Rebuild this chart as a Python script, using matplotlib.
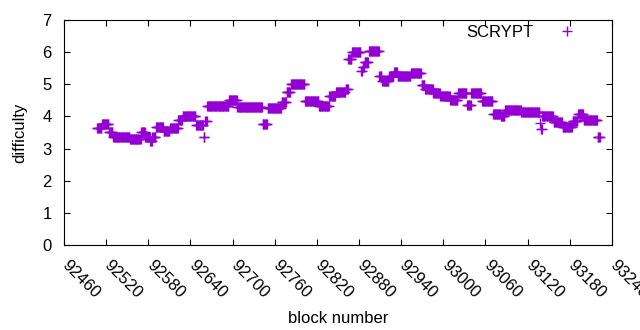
import matplotlib
matplotlib.use('Agg')
import matplotlib.pyplot as plt
import matplotlib.transforms as mtransforms
import numpy as np

plt.rcParams['font.family'] = ['Liberation Sans', 'DejaVu Sans']

# difficulty: first block of each run and its value
run_start = [92507, 92514, 92524, 92530, 92554, 92570, 92576, 92583, 92586, 92591,
             92602, 92611, 92623, 92629, 92648, 92659, 92661, 92664, 92695, 92707,
             92743, 92750, 92770, 92777, 92783, 92803, 92823, 92838, 92847, 92861,
             92865, 92870, 92883, 92885, 92888, 92894, 92909, 92913, 92923, 92930,
             92935, 92954, 92969, 92974, 92986, 92996, 93010, 93021, 93034, 93040,
             93055, 93071, 93082, 93088, 93111, 93138, 93139, 93141, 93157, 93170,
             93184, 93192, 93200, 93220]
run_diff = [3.65, 3.75, 3.50, 3.35, 3.30, 3.50, 3.35, 3.25, 3.35, 3.68,
            3.55, 3.65, 3.90, 4.02, 3.72, 3.37, 3.85, 4.33, 4.50, 4.30,
            3.75, 4.27, 4.45, 4.75, 5.00, 4.48, 4.33, 4.63, 4.75, 4.85,
            5.78, 6.00, 5.40, 5.55, 5.70, 6.05, 5.25, 5.10, 5.25, 5.38,
            5.25, 5.35, 4.97, 4.85, 4.73, 4.63, 4.50, 4.73, 4.35, 4.73,
            4.48, 4.08, 4.00, 4.20, 4.15, 3.80, 3.60, 4.00, 3.84, 3.68,
            3.86, 4.08, 3.90, 3.37]
last_block = 93224

xticks = np.arange(92460, 93241, 60)
yticks = np.arange(0, 8, 1)

# one point per block
ends = run_start[1:] + [last_block]
blocks = []
diff = []
for s, e, v in zip(run_start, ends, run_diff):
    b = np.arange(s, e)
    blocks.extend(b)
    diff.extend([v] * len(b))

fig = plt.figure(figsize=(6.4, 3.3), dpi=100)
ax = fig.add_axes([0.1, 0.2576, 0.856, 0.6818])

ax.plot(blocks, diff, '+', color='#9400d3', ms=7, mew=1, label='SCRYPT')

ax.set_xlim(92460, 93240)
ax.set_ylim(0, 7)
ax.set_xticks(xticks)
ax.set_yticks(yticks)
ax.set_xticklabels([str(t) for t in xticks], rotation=-45, ha='left', va='top',
                   rotation_mode='anchor')
ax.tick_params(direction='in', top=True, right=True, length=4, labelsize=12)
ax.tick_params(axis='x', pad=9)
ax.tick_params(axis='y', pad=9)
# nudge the rotated labels to the right, like gnuplot places them
shift = mtransforms.ScaledTranslation(0.06, 0, fig.dpi_scale_trans)
for lab in ax.get_xticklabels():
    lab.set_transform(lab.get_transform() + shift)
ax.set_xlabel('block number', fontsize=12, labelpad=7)
ax.set_ylabel('difficulty', fontsize=12, labelpad=11)
ax.legend(loc='upper right', bbox_to_anchor=(0.960, 1.009), frameon=False,
          markerfirst=False, fontsize=12, handlelength=2, handletextpad=1.0,
          borderaxespad=0)

plt.savefig('out.png')
